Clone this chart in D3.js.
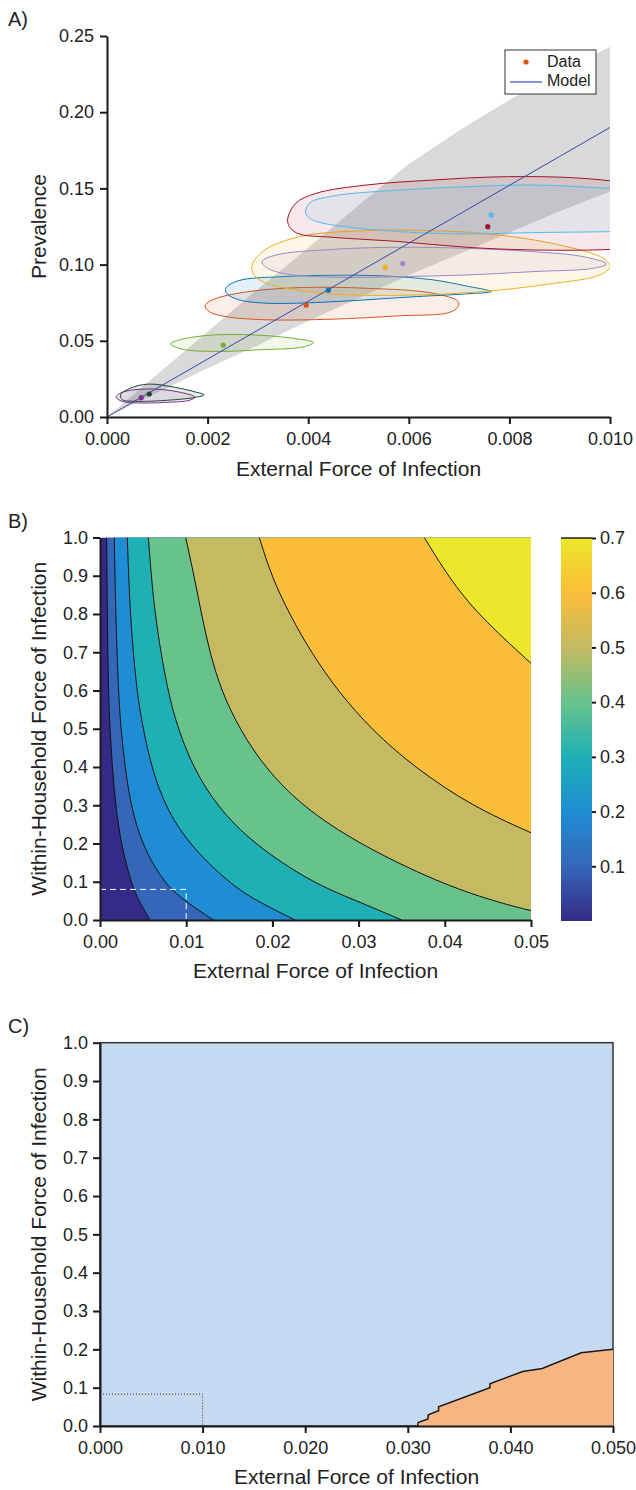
<!DOCTYPE html>
<html>
<head>
<meta charset="utf-8">
<script src="https://cdn.jsdelivr.net/npm/d3@7"></script>
<style>
body { margin: 0; background: #fff; }
svg text { font-family: "Liberation Sans", Arial, Helvetica, sans-serif; fill: #222; }
</style>
</head>
<body>
<svg id="chart" width="636" height="1490"></svg>
<script>
// ---------- panel A : prevalence vs external force ----------
var aTicksX = [0, 0.002, 0.004, 0.006, 0.008, 0.010];
var aTicksY = [0, 0.05, 0.10, 0.15, 0.20, 0.25];

var seriesColors = ["#7e2f8e", "#1e4534", "#77ac30", "#d95319", "#0072bd", "#edb120", "#9f86c9", "#a2142f", "#4dbeee"];
var dataExt  = [0.00068, 0.00084, 0.00231, 0.00396, 0.00440, 0.00553, 0.00588, 0.00757, 0.00764];
var dataPrev = [0.0127, 0.0151, 0.0472, 0.0734, 0.0832, 0.0983, 0.1007, 0.1249, 0.1325];

// credible regions, one closed outline per data point, [ext, prev]
var regionPurple = [[0.00018,0.0131],[0.0003,0.0162],[0.00056,0.0179],[0.00096,0.0183],[0.00143,0.0164],[0.00175,0.0131],[0.00163,0.0109],[0.00116,0.0096],[0.00063,0.0092],[0.0003,0.0103]];
var regionDarkGreen = [[0.00027,0.0146],[0.00047,0.019],[0.00083,0.0216],[0.00136,0.0194],[0.00176,0.0164],[0.00193,0.0146],[0.00176,0.0129],[0.00116,0.0109],[0.00056,0.0103],[0.0003,0.0114]];
var regionGreen = [[0.00126,0.048],[0.0015,0.0511],[0.00216,0.0539],[0.00302,0.0537],[0.00382,0.0511],[0.00411,0.0489],[0.00389,0.0459],[0.00302,0.0441],[0.00216,0.043],[0.0015,0.0445]];
var regionOrange = [[0.00195,0.0731],[0.00213,0.0773],[0.00282,0.0823],[0.00382,0.0849],[0.00515,0.0845],[0.00648,0.0812],[0.00698,0.0758],[0.00698,0.0725],[0.00681,0.0686],[0.00581,0.0664],[0.00449,0.0642],[0.00316,0.0638],[0.00236,0.0659],[0.00203,0.0692]];
var regionBlue = [[0.00236,0.0845],[0.00262,0.0895],[0.00349,0.0921],[0.00449,0.093],[0.00548,0.0926],[0.00648,0.09],[0.00714,0.086],[0.00764,0.0823],[0.00714,0.0808],[0.00615,0.079],[0.00515,0.0769],[0.00415,0.0751],[0.00316,0.0747],[0.00262,0.0769],[0.00239,0.0808]];
var regionYellow = [[0.00288,0.0991],[0.00309,0.1085],[0.00382,0.1183],[0.00515,0.1223],[0.00648,0.1223],[0.00781,0.1194],[0.00914,0.1118],[0.00987,0.1041],[0.0100,0.0987],[0.0098,0.0932],[0.0088,0.0873],[0.00748,0.0823],[0.00615,0.0801],[0.00482,0.0801],[0.00382,0.083],[0.00316,0.0878],[0.00292,0.0932]];
var regionLavender = [[0.00308,0.102],[0.00336,0.1063],[0.00449,0.11],[0.00581,0.1114],[0.00714,0.1107],[0.00847,0.1085],[0.00947,0.1052],[0.00993,0.1004],[0.00967,0.0976],[0.00847,0.0954],[0.00714,0.0932],[0.00581,0.0921],[0.00449,0.0917],[0.00349,0.0943],[0.00316,0.0983]];
var regionDarkRed = [[0.00359,0.1293],[0.00375,0.1402],[0.00415,0.1467],[0.00515,0.1522],[0.00648,0.1555],[0.00781,0.1576],[0.00914,0.1572],[0.0100,0.155],[0.0106,0.152],[0.0106,0.112],[0.0100,0.110],[0.00847,0.1096],[0.00714,0.1114],[0.00581,0.1151],[0.00449,0.1179],[0.00382,0.1201],[0.00365,0.1238]];
var regionLightBlue = [[0.00395,0.1336],[0.00402,0.1402],[0.00449,0.145],[0.00581,0.1489],[0.00714,0.1511],[0.00847,0.1522],[0.0100,0.150],[0.0106,0.149],[0.0106,0.122],[0.0100,0.1216],[0.00847,0.121],[0.00714,0.1201],[0.00581,0.1216],[0.00449,0.126],[0.00409,0.1293]];
var regions = [regionPurple, regionDarkGreen, regionGreen, regionOrange, regionBlue, regionYellow, regionLavender, regionDarkRed, regionLightBlue];

// model fit and its grey band
var modelExt   = [0, 0.001, 0.002, 0.003, 0.004, 0.005, 0.006, 0.007, 0.008, 0.009, 0.010];
var modelPrev  = [0, 0.019, 0.038, 0.057, 0.076, 0.095, 0.114, 0.133, 0.152, 0.171, 0.190];
var bandUpper  = [0, 0.028, 0.056, 0.084, 0.111, 0.139, 0.166, 0.188, 0.208, 0.226, 0.243];
var bandLower  = [0, 0.016, 0.032, 0.047, 0.063, 0.078, 0.093, 0.107, 0.121, 0.135, 0.148];

// ---------- panel B : contour of prevalence ----------
var bTicksX = [0, 0.01, 0.02, 0.03, 0.04, 0.05];
var bTicksY = [0, 0.1, 0.2, 0.3, 0.4, 0.5, 0.6, 0.7, 0.8, 0.9, 1.0];
var bLevels = [0.1, 0.2, 0.3, 0.4, 0.5, 0.6, 0.7];
var bLines = [
  [[0.00077,1],[0.00085,0.797],[0.00097,0.597],[0.00116,0.497],[0.00143,0.398],[0.00182,0.298],[0.00244,0.199],[0.0036,0.098],[0.00445,0.052],[0.0058,0]],
  [[0.00166,1],[0.00182,0.797],[0.00213,0.597],[0.00244,0.497],[0.0029,0.398],[0.0036,0.298],[0.00483,0.199],[0.00735,0.098],[0.00967,0.052],[0.01315,0]],
  [[0.00317,1],[0.00348,0.797],[0.00425,0.597],[0.00503,0.497],[0.00599,0.398],[0.00754,0.298],[0.01025,0.199],[0.01489,0.098],[0.01798,0.052],[0.02262,0]],
  [[0.00561,1],[0.0063,0.797],[0.00785,0.597],[0.00909,0.497],[0.01083,0.398],[0.01353,0.298],[0.01779,0.199],[0.02456,0.098],[0.02958,0.052],[0.0350,0]],
  [[0.00994,1],[0.01094,0.897],[0.01179,0.797],[0.01276,0.697],[0.01411,0.597],[0.01624,0.497],[0.01914,0.398],[0.0234,0.298],[0.02997,0.199],[0.03925,0.098],[0.04582,0.048],[0.05,0.0245]],
  [[0.01848,1],[0.01992,0.897],[0.02204,0.797],[0.02456,0.697],[0.02765,0.597],[0.03152,0.497],[0.03654,0.398],[0.04312,0.298],[0.05,0.228]],
  [[0.03763,1],[0.04041,0.897],[0.04389,0.797],[0.05,0.671]]
];
var cbStops  = [0, 0.1, 0.2, 0.3, 0.4, 0.5, 0.6, 0.7];
var cbColors = ["#352a87", "#3567b9", "#1f8dd4", "#1fb0b6", "#68c28b", "#c3ba61", "#fcbd39", "#ece72a"];
var cbTicks  = [0.1, 0.2, 0.3, 0.4, 0.5, 0.6, 0.7];
var markExt = 0.01, markWithin = 0.08;

// ---------- panel C : region map ----------
var cTicksX = [0, 0.01, 0.02, 0.03, 0.04, 0.05];
var cTicksY = bTicksY;
var cBoundary = [[0.03097,0],[0.031,0.009],[0.03196,0.0185],[0.032,0.029],[0.033,0.04],[0.033,0.05],[0.038,0.1],[0.038,0.11],[0.0412,0.142],[0.0431,0.15],[0.0469,0.191],[0.05,0.20]];
var cMarkWithin = 0.083;

var svg = d3.select("#chart");
var axisColor = "#1a1a1a";
var tickFont = 18, labelFont = 21;

function styleAxis(g, w) {
	g.selectAll(".domain").attr("stroke", axisColor).attr("stroke-width", w);
	g.selectAll(".tick line").attr("stroke", axisColor).attr("stroke-width", w);
	g.selectAll(".tick text").attr("font-size", tickFont).attr("fill", "#222");
}

function drawAxes(x, y, ticksX, ticksY, fmtX, fmtY, padY) {
	var gx = svg.append("g")
		.attr("transform", "translate(0," + y.range()[0] + ")")
		.call(d3.axisBottom(x).tickValues(ticksX).tickFormat(d3.format(fmtX)).tickSizeInner(7).tickSizeOuter(0).tickPadding(8));
	styleAxis(gx, 2);
	var gy = svg.append("g")
		.attr("transform", "translate(" + x.range()[0] + ",0)")
		.call(d3.axisLeft(y).tickValues(ticksY).tickFormat(d3.format(fmtY)).tickSizeInner(7).tickSizeOuter(0).tickPadding(padY));
	styleAxis(gy, 2);
}

function labels(tag, tagY, x, y, yLabel, xLabelY, yLabelX) {
	svg.append("text").attr("x", 8).attr("y", tagY).attr("font-size", 20).text(tag);
	svg.append("text").attr("x", (x.range()[0] + x.range()[1]) / 2).attr("y", xLabelY)
		.attr("text-anchor", "middle").attr("font-size", labelFont).text("External Force of Infection");
	svg.append("text")
		.attr("transform", "translate(" + yLabelX + "," + (y.range()[0] + y.range()[1]) / 2 + ") rotate(-90)")
		.attr("text-anchor", "middle").attr("font-size", labelFont).text(yLabel);
}

// ================= A =================
var xA = d3.scaleLinear().domain([0, 0.01]).range([107, 610]);
var yA = d3.scaleLinear().domain([0, 0.25]).range([417, 36]);

svg.append("clipPath").attr("id", "clipA").append("rect")
	.attr("x", xA(0)).attr("y", yA(0.25)).attr("width", xA(0.01) - xA(0)).attr("height", yA(0) - yA(0.25));
var gA = svg.append("g").attr("clip-path", "url(#clipA)");

var bandIdx = d3.range(modelExt.length);
gA.append("path")
	.datum(bandIdx)
	.attr("fill", "#d9d9d9")
	.attr("d", d3.area()
		.x(function(i) { return xA(modelExt[i]); })
		.y0(function(i) { return yA(bandLower[i]); })
		.y1(function(i) { return yA(bandUpper[i]); }));

var regionLine = d3.line()
	.x(function(d) { return xA(d[0]); })
	.y(function(d) { return yA(d[1]); })
	.curve(d3.curveCatmullRomClosed.alpha(0.5));

gA.selectAll("path.region")
	.data(regions)
	.enter()
	.append("path")
	.attr("class", "region")
	.attr("d", regionLine)
	.attr("fill", function(d, i) { return seriesColors[i]; })
	.attr("fill-opacity", 0.1)
	.attr("stroke", function(d, i) { return seriesColors[i]; })
	.attr("stroke-width", 1);

gA.append("path")
	.datum(bandIdx)
	.attr("fill", "none")
	.attr("stroke", "#3649b0")
	.attr("stroke-width", 1)
	.attr("d", d3.line()
		.x(function(i) { return xA(modelExt[i]); })
		.y(function(i) { return yA(modelPrev[i]); }));

gA.selectAll("circle.pt")
	.data(dataExt)
	.enter()
	.append("circle")
	.attr("class", "pt")
	.attr("cx", function(d) { return xA(d); })
	.attr("cy", function(d, i) { return yA(dataPrev[i]); })
	.attr("r", 2.6)
	.attr("fill", function(d, i) { return seriesColors[i]; });

drawAxes(xA, yA, aTicksX, aTicksY, ".3f", ".2f", 6);
labels("A)", 26, xA, yA, "Prevalence", 476, 46);

// legend
var lg = svg.append("g").attr("transform", "translate(505,50)");
lg.append("rect").attr("width", 91).attr("height", 44).attr("fill", "#fff").attr("stroke", "#333").attr("stroke-width", 1);
lg.append("circle").attr("cx", 21).attr("cy", 12).attr("r", 2.6).attr("fill", "#d95319");
lg.append("text").attr("x", 42).attr("y", 17).attr("font-size", 16).text("Data");
lg.append("line").attr("x1", 5).attr("x2", 37).attr("y1", 32).attr("y2", 32).attr("stroke", "#3649b0").attr("stroke-width", 1.2);
lg.append("text").attr("x", 42).attr("y", 36).attr("font-size", 16).text("Model");

// ================= B =================
var xB = d3.scaleLinear().domain([0, 0.05]).range([100, 531]);
var yB = d3.scaleLinear().domain([0, 1]).range([920, 537.5]);
var colorB = d3.scaleLinear().domain(cbStops).range(cbColors).interpolate(d3.interpolateRgb);

svg.append("clipPath").attr("id", "clipB").append("rect")
	.attr("x", xB(0)).attr("y", yB(1)).attr("width", xB(0.05) - xB(0)).attr("height", yB(0) - yB(1));
var gB = svg.append("g").attr("clip-path", "url(#clipB)");

gB.append("rect")
	.attr("x", xB(0)).attr("y", yB(1)).attr("width", xB(0.05) - xB(0)).attr("height", yB(0) - yB(1))
	.attr("fill", colorB(0));

var contourLine = d3.line()
	.x(function(d) { return xB(d[0]); })
	.y(function(d) { return yB(d[1]); })
	.curve(d3.curveBasis);

// each level fills everything above/right of its line
gB.selectAll("path.band")
	.data(bLines)
	.enter()
	.append("path")
	.attr("class", "band")
	.attr("fill", function(d, i) { return colorB(bLevels[i]); })
	.attr("d", function(d) {
		var last = d[d.length - 1];
		return contourLine(d) +
			"L" + xB(0.05) + "," + yB(last[1]) +
			"L" + xB(0.05) + "," + yB(1) + "Z";
	});

gB.selectAll("path.cline")
	.data(bLines)
	.enter()
	.append("path")
	.attr("class", "cline")
	.attr("fill", "none")
	.attr("stroke", "#111")
	.attr("stroke-width", 1)
	.attr("d", contourLine);

gB.append("path")
	.attr("fill", "none")
	.attr("stroke", "#fff")
	.attr("stroke-width", 1)
	.attr("stroke-dasharray", "6,4")
	.attr("d", "M" + xB(0) + "," + yB(markWithin) + "H" + xB(markExt) + "V" + yB(0));

drawAxes(xB, yB, bTicksX, bTicksY, ".2f", ".1f", 5);
labels("B)", 528, xB, yB, "Within-Household Force of Infection", 978, 46);

// colorbar
var cbY = d3.scaleLinear().domain([0, 0.7]).range([921, 538]);
var grad = svg.append("defs").append("linearGradient")
	.attr("id", "parula").attr("x1", 0).attr("y1", 1).attr("x2", 0).attr("y2", 0);
grad.selectAll("stop")
	.data(cbStops)
	.enter()
	.append("stop")
	.attr("offset", function(d) { return d / 0.7; })
	.attr("stop-color", function(d, i) { return cbColors[i]; });
svg.append("rect")
	.attr("x", 561).attr("y", cbY(0.7)).attr("width", 31).attr("height", cbY(0) - cbY(0.7))
	.attr("fill", "url(#parula)");
svg.append("line")
	.attr("x1", 561).attr("x2", 592).attr("y1", cbY(0.7)).attr("y2", cbY(0.7))
	.attr("stroke", axisColor).attr("stroke-width", 1.5);
var gCb = svg.append("g")
	.attr("transform", "translate(592,0)")
	.call(d3.axisRight(cbY).tickValues(cbTicks).tickFormat(d3.format(".1f")).tickSizeInner(4).tickSizeOuter(0).tickPadding(4));
gCb.select(".domain").remove();
styleAxis(gCb, 2);

// ================= C =================
var xC = d3.scaleLinear().domain([0, 0.05]).range([100, 613]);
var yC = d3.scaleLinear().domain([0, 1]).range([1426, 1042.7]);

svg.append("rect")
	.attr("x", xC(0)).attr("y", yC(1)).attr("width", xC(0.05) - xC(0)).attr("height", yC(0) - yC(1))
	.attr("fill", "#c5daf0")
	.attr("stroke", "#333").attr("stroke-width", 1.5);

var boundaryLine = d3.line()
	.x(function(d) { return xC(d[0]); })
	.y(function(d) { return yC(d[1]); });

svg.append("path")
	.attr("fill", "#f8b584")
	.attr("d", boundaryLine(cBoundary) + "L" + xC(0.05) + "," + yC(0) + "Z");
svg.append("path")
	.attr("fill", "none")
	.attr("stroke", "#1a1a1a")
	.attr("stroke-width", 1.5)
	.attr("d", boundaryLine(cBoundary));

svg.append("path")
	.attr("fill", "none")
	.attr("stroke", "#333")
	.attr("stroke-width", 1)
	.attr("stroke-dasharray", "1,2")
	.attr("d", "M" + xC(0) + "," + yC(cMarkWithin) + "H" + xC(markExt) + "V" + yC(0));

drawAxes(xC, yC, cTicksX, cTicksY, ".3f", ".1f", 5);
labels("C)", 1033, xC, yC, "Within-Household Force of Infection", 1484, 46);
</script>
</body>
</html>
